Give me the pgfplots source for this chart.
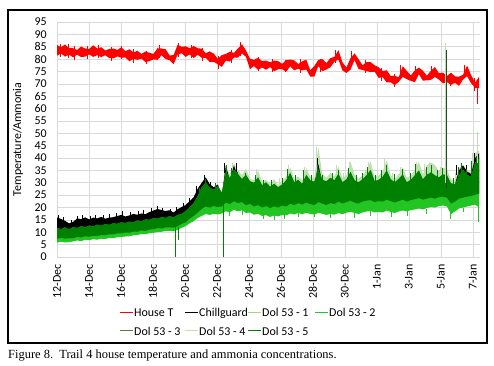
\documentclass[border=0pt]{standalone}
\usepackage{fontspec}
\setmainfont{Carlito}
\newfontfamily\capfont{Liberation Serif}
\usepackage{pgfplots}
\usepackage{pgfplotstable}
\pgfplotsset{compat=1.18}
\usepgfplotslibrary{fillbetween}
\definecolor{gridc}{RGB}{217,217,217}
\definecolor{dolA}{RGB}{169,209,142}
\definecolor{dolB}{RGB}{34,197,34}
\definecolor{dolC}{RGB}{84,130,53}
\definecolor{dolD}{RGB}{190,224,176}
\definecolor{dolE}{RGB}{0,128,0}
\definecolor{spk}{RGB}{30,77,30}

\pgfplotstableread{
Hu Hl Cu Fu Du Dl Bl
85.7 81.4 16.0 10.8 11.8 7.3 5.8
84.8 82.3 15.4 10.2 11.2 7.8 6.2
85.9 81.0 14.6 11.0 12.0 7.4 5.9
84.4 81.8 13.6 10.0 11.0 7.6 6.0
84.4 80.7 14.2 11.1 12.1 7.5 6.3
83.7 81.8 15.6 10.7 11.7 8.2 6.7
85.1 80.8 15.3 11.5 12.5 7.9 6.4
84.3 81.0 16.0 11.0 12.0 8.4 7.0
84.1 81.9 15.2 11.7 12.7 8.2 6.8
85.6 80.9 15.9 11.3 12.3 8.6 7.2
84.3 81.6 15.6 12.1 13.1 8.5 7.0
84.8 80.8 16.2 11.6 12.6 8.9 7.4
83.5 81.6 15.5 12.3 13.3 8.8 7.3
84.1 80.4 15.9 12.0 13.0 9.2 7.7
84.3 80.3 16.1 12.6 13.6 9.1 7.6
83.7 81.1 16.6 12.4 13.4 9.6 8.0
84.8 80.5 17.0 13.0 14.0 9.5 8.1
83.2 80.7 16.4 12.7 13.7 9.9 8.3
84.0 79.1 16.8 13.3 14.3 9.8 8.4
82.7 80.1 17.4 13.0 14.0 10.3 8.8
83.4 79.7 17.1 13.8 14.8 10.2 8.9
82.1 80.2 17.6 13.4 14.4 10.8 9.3
83.1 78.8 17.3 14.2 15.2 10.5 9.2
82.5 79.2 18.2 14.0 15.0 11.1 9.6
82.1 79.9 18.8 14.7 15.7 11.2 9.8
84.4 79.7 19.4 14.5 15.5 11.7 10.1
84.3 81.6 19.0 15.1 16.1 11.5 10.2
84.0 80.0 18.6 14.8 15.8 12.0 10.5
81.5 79.6 18.9 15.5 16.5 12.0 10.6
81.6 77.9 18.0 15.0 16.0 11.9 10.4
85.8 81.8 19.3 16.0 17.0 12.4 11.0
85.0 82.4 20.2 16.4 17.4 13.4 11.8
85.2 80.9 21.0 17.6 18.6 14.0 12.5
84.4 81.9 22.6 19.0 20.0 15.5 13.6
85.3 80.4 24.2 20.8 21.8 16.6 14.5
84.4 81.8 27.6 23.6 24.6 18.0 15.8
84.2 80.5 30.0 27.2 28.2 19.4 16.6
82.4 80.5 32.2 29.1 30.1 20.4 17.4
83.1 78.8 29.4 27.0 28.0 20.0 17.0
82.2 78.9 28.2 26.2 27.2 20.6 17.5
80.1 77.9 29.3 27.6 28.6 20.2 17.2
81.6 76.9 25.0 25.0 26.0 20.5 17.6
82.1 79.4 37.0 36.0 34.5 22.0 18.5
83.0 79.0 31.0 33.5 32.0 21.4 18.0
82.5 80.6 37.0 37.6 35.2 22.6 19.2
84.3 80.6 32.5 35.0 33.6 21.8 18.4
86.0 82.3 30.5 33.0 31.5 22.2 18.9
83.5 80.9 32.0 35.6 33.2 21.0 17.8
80.2 75.9 29.5 31.6 30.6 21.5 18.0
79.7 77.2 29.0 31.0 30.0 20.4 17.1
80.5 75.6 31.0 35.0 32.2 21.0 17.5
79.2 76.6 28.0 30.5 29.0 20.0 16.6
79.4 75.7 29.0 31.2 30.2 20.6 16.9
78.7 76.8 27.5 29.5 28.4 19.8 16.2
79.4 75.1 28.5 31.5 29.6 20.5 16.8
79.2 75.9 27.0 29.0 28.2 20.0 16.4
78.1 75.9 28.0 30.8 29.3 20.8 17.0
79.6 74.9 30.0 32.4 31.0 20.4 16.8
79.8 77.1 33.0 36.2 34.0 21.6 17.6
79.5 75.5 29.0 31.5 30.2 21.0 17.2
78.0 76.1 30.0 32.6 31.2 21.8 17.8
79.1 75.4 28.5 31.0 29.6 21.2 17.3
79.8 75.8 32.0 36.0 33.2 22.0 17.9
75.5 72.9 30.0 32.4 31.0 21.4 17.4
77.2 72.9 29.0 31.8 30.4 21.0 17.2
79.7 77.2 37.5 44.5 35.4 22.2 17.8
80.0 75.1 30.0 33.5 31.2 21.6 17.5
78.4 75.8 29.5 32.0 30.6 21.0 17.0
80.4 76.7 31.0 34.0 32.0 21.8 17.4
80.9 79.0 30.0 32.5 31.0 21.4 17.1
83.6 79.8 32.5 36.5 33.6 22.4 17.8
78.7 75.4 29.0 32.0 30.2 21.6 17.3
76.6 74.4 30.0 33.0 31.4 22.2 17.9
80.4 75.7 33.0 38.6 34.4 22.8 18.3
82.3 79.6 30.0 33.4 31.0 22.0 17.8
80.0 76.0 29.0 31.6 30.2 21.6 17.4
77.5 75.6 30.0 33.0 31.4 22.4 18.0
78.8 75.1 32.0 35.2 33.0 22.8 18.4
78.8 74.8 34.0 38.6 35.2 23.0 18.6
77.5 74.9 29.5 32.4 30.6 22.2 18.0
76.7 72.4 30.0 33.0 31.2 22.6 18.2
75.2 72.7 31.0 34.6 32.4 22.4 18.0
75.5 70.6 34.0 39.2 35.0 23.2 18.8
73.2 70.6 30.0 33.0 31.4 22.6 18.2
73.2 69.5 29.0 31.6 30.2 22.0 17.8
72.7 70.8 30.5 33.4 31.6 22.6 18.4
77.1 72.8 32.0 36.2 33.4 23.2 18.8
75.2 71.9 29.0 32.0 30.2 22.4 18.4
73.4 71.2 30.0 33.0 31.2 23.0 19.0
75.4 70.7 32.0 35.0 33.0 23.4 19.2
76.6 73.9 34.0 38.6 35.0 23.8 19.6
75.3 71.3 30.0 33.4 31.4 23.2 19.2
73.3 71.4 32.0 37.0 33.2 23.6 19.8
75.3 71.6 33.0 38.2 34.2 24.0 20.2
76.8 72.8 32.0 37.2 33.0 23.6 20.0
74.3 71.7 31.0 34.6 32.2 24.2 20.6
74.5 70.2 32.0 36.2 33.4 24.4 20.8
73.2 70.7 32.0 35.4 33.0 24.0 20.4
74.5 69.6 29.0 31.4 29.8 21.6 17.4
73.0 70.4 29.5 31.0 29.4 22.4 18.4
72.9 69.2 35.0 36.0 33.0 23.6 19.6
73.7 71.8 37.0 37.2 35.2 24.0 20.0
77.4 73.1 34.5 35.0 33.2 24.4 20.4
73.5 70.2 33.6 34.6 32.4 24.6 20.8
70.6 68.4 40.0 42.0 38.2 25.2 21.2
72.9 68.2 42.0 43.0 40.0 25.6 20.0
}\data

% short noise spikes: x, base, length
\pgfplotstableread{
x b l
0.2 81.0 5.2
0.7 80.6 5.4
1.1 79.8 5.4
1.9 80.2 5.2
2.6 80.3 5.4
3.4 79.3 5.4
4.0 80.0 5.4
4.8 78.5 5.4
5.6 78.2 5.2
6.4 80.6 5.0
7.6 81.0 5.4
8.4 80.3 5.6
9.1 79.4 5.2
10.1 76.0 5.2
10.9 78.4 5.2
11.5 81.4 5.6
12.6 75.3 5.4
13.5 74.7 5.4
14.3 74.6 5.2
15.2 74.5 5.4
16.5 74.8 5.4
17.4 78.3 5.4
18.4 77.8 5.4
19.3 74.2 5.4
20.3 71.2 5.4
21.1 68.9 5.2
21.5 72.4 5.4
22.4 71.8 5.4
23.4 71.9 5.2
24.6 69.1 5.4
25.5 72.3 5.4
26.1 67.2 5.2
}\redSpk

\pgfplotstableread{
x b l
10.5 28 10
11.0 28 10
12.5 28 7.5
13.9 27 5
14.5 28 9
15.5 28 8.5
16.25 28 16.5
17.5 28 9
17.9 28 6
18.3 28 10.5
19.5 28 10.5
20.5 28 11.5
21.0 28 6
21.5 28 8.5
22.5 28 10.5
23.0 28 9.5
23.3 28 10.5
23.6 28 9
24.0 28 8.5
24.9 28 6
26.0 30 12
}\paleSpk

\pgfplotstableread{
x b l
0.1 14 3
0.4 13.5 2.5
0.9 12.5 2.5
1.3 14 2.5
1.6 14 2.8
2.1 14 2.6
2.4 14.5 2.3
2.9 14.5 2.6
3.3 14.5 2.8
3.7 15 2.6
4.1 15.5 3
4.6 15.5 2.6
5.1 16 2.6
5.4 16 2.8
5.9 17 3
6.3 17.5 3
6.6 17.5 2.5
7.1 17 2.6
7.5 17.5 2.8
7.9 19 3
8.3 21 3
8.7 24 4.5
9.2 28 5
9.6 27 3.5
10.5 34 4
11.2 33 5
16.3 35 5
25.0 33 4
25.6 33 4
26.1 38 4
}\blackSpk

\pgfplotstableread{
x b l
10.8 19 2.5
11.6 19 2
12.9 17 1.8
13.6 17 2
14.2 17.5 2
15.1 18 2
16.1 18 2
17.1 17.5 1.8
18.6 18 2.2
19.6 18.5 2
20.9 18 2
21.9 18.5 2
23.1 19.5 2
24.6 18 2.5
25.4 20 2
}\brightSpk

\pgfplotstableread{
x b l
8.9 22 6
9.3 25 6.5
9.9 24 6
10.6 29 8
10.9 29 7
11.3 28 6.5
11.8 28 6
12.4 27 6
12.9 26 5
13.4 26 5
14.1 27 5
14.4 28 7.5
14.9 28 5
15.4 28 7
15.9 28 5
16.3 29 8
16.6 28 5
17.2 28 6
17.6 29 6
18.2 29 7
18.7 28 5
19.1 28 6
19.4 29 7.5
19.9 28 5
20.3 29 6
20.6 29 8
21.1 28 5.5
21.6 29 6.5
22.1 28 6
22.4 30 7.5
22.7 28 5.5
23.1 30 6.5
23.4 30 7
23.8 29 6
24.1 30 6
24.8 27 5
25.1 30 6.5
25.3 31 7
25.6 30 5.5
25.9 31 8
26.2 32 9
}\darkSpk

\begin{document}
\begin{tikzpicture}
\path (0,0) rectangle (494bp,366bp);
\draw[line width=1.4bp] (8bp,23bp) rectangle (487bp,356bp);
\begin{axis}[
  at={(57bp,109bp)}, anchor=south west,
  scale only axis, width=423bp, height=235bp,
  xmin=0, xmax=26.45, ymin=0, ymax=95,
  xtick={0,2,...,26},
  xticklabels={12-Dec,14-Dec,16-Dec,18-Dec,20-Dec,22-Dec,24-Dec,26-Dec,28-Dec,30-Dec,1-Jan,3-Jan,5-Jan,7-Jan},
  ytick={0,5,...,95},
  grid=major, major grid style={gridc, line width=0.6bp},
  axis line style={draw=none}, tick style={draw=none},
  /pgf/number format/assume math mode=true,
  tick label style={font=\fontsize{12}{14}\selectfont},
  xticklabel style={yshift=-7bp, rotate=90, anchor=east, inner sep=0pt},
  yticklabel style={xshift=-10bp, anchor=east, inner sep=0pt},
  ylabel={Temperature/Ammonia},
  every axis y label/.style={at={(axis description cs:0,0.5)}, xshift=-39bp, rotate=90, anchor=center, font=\fontsize{12}{14}\selectfont},
  spikes/.style={on layer=pre main, draw=none, mark=none, forget plot,
     error bars/.cd, y dir=plus, y explicit, error mark=none},
]
\addplot[draw=none, name path=hu, forget plot] table[x expr=\coordindex*0.2514, y=Hu] {\data};
\addplot[draw=none, name path=hl, forget plot] table[x expr=\coordindex*0.2514, y=Hl] {\data};
\addplot[draw=none, name path=cu, forget plot] table[x expr=\coordindex*0.2514, y=Cu] {\data};
\addplot[draw=none, name path=fu, forget plot] table[x expr=\coordindex*0.2514, y=Fu] {\data};
\addplot[draw=none, name path=du, forget plot] table[x expr=\coordindex*0.2514, y=Du] {\data};
\addplot[draw=none, name path=dl, forget plot] table[x expr=\coordindex*0.2514, y=Dl] {\data};
\addplot[draw=none, name path=bl, forget plot] table[x expr=\coordindex*0.2514, y=Bl] {\data};
% Dol 53 - 4 (pale)
\addplot[fill=dolD, draw=none, forget plot] fill between[of=fu and dl];
\addplot[spikes, error bar style={draw=dolD, line width=1bp}] table[x=x, y=b, y error=l] {\paleSpk};
% Chillguard
\addplot[fill=black, draw=none, forget plot] fill between[of=cu and dl];
\addplot[spikes, error bar style={draw=black, line width=1bp}] table[x=x, y=b, y error=l] {\blackSpk};
% Dol 53 - 2 (bright)
\addplot[fill=dolB, draw=none, forget plot] fill between[of=du and bl];
\addplot[on layer=pre main, draw=none, mark=none, forget plot, error bars/.cd, y dir=minus, y explicit, error mark=none, error bar style={draw=dolB, line width=1bp}] table[x=x, y=b, y error=l] {\brightSpk};
% Dol 53 - 1 and Dol 53 - 3 (mostly hidden)
\addplot[on layer=pre main, dolA, line width=0.8bp, forget plot] coordinates {(0,9) (2,10) (4,11.5) (6,13) (8,16) (10,23) (12,25) (14,24) (16,25) (18,26) (20,26) (22,27) (24,27.5) (26,29)};
\addplot[on layer=pre main, dolC, line width=0.8bp, forget plot] coordinates {(0,9.5) (2,10.5) (4,12) (6,13.5) (8,16.5) (10,23.5) (12,26) (14,24.5) (16,25.5) (18,26.5) (20,26.5) (22,27.5) (24,28) (26,30)};
% Dol 53 - 5 (dark)
\addplot[fill=dolE, draw=none, forget plot] fill between[of=du and dl];
\addplot[spikes, error bar style={draw=dolE, line width=0.9bp}] table[x=x, y=b, y error=l] {\darkSpk};
% House T
\addplot[fill=red, draw=none, forget plot] fill between[of=hu and hl];
\addplot[spikes, error bar style={draw=red, line width=0.9bp}] table[x=x, y=b, y error=l] {\redSpk};
% spikes
\addplot[dolE, line width=0.9bp, forget plot] coordinates {(7.4,12) (7.4,0)};
\addplot[dolE, line width=0.9bp, forget plot] coordinates {(7.6,12) (7.6,7)};
\addplot[dolE, line width=0.9bp, forget plot] coordinates {(10.4,24) (10.4,0)};
\addplot[dolD, line width=1.2bp, forget plot] coordinates {(24.3,30) (24.3,86.5)};
\addplot[spk, line width=1.3bp, forget plot] coordinates {(24.37,28) (24.37,83.7)};
\addplot[dolD, line width=0.9bp, forget plot] coordinates {(26.3,38) (26.3,50.5)};
\addplot[red, line width=0.9bp, forget plot] coordinates {(26.3,70) (26.3,62)};
\addplot[dolB, line width=0.9bp, forget plot] coordinates {(26.35,22) (26.35,14)};
\end{axis}
% legend
\begin{scope}[font=\fontsize{12}{14}\selectfont]
\draw[red, line width=0.9bp] (120bp,53.5bp) -- (133bp,53.5bp);
\node[anchor=base west, inner sep=0pt] at (134bp,49bp) {House T};
\draw[black, line width=0.9bp] (185bp,53.5bp) -- (198bp,53.5bp);
\node[anchor=base west, inner sep=0pt] at (199bp,49bp) {Chillguard};
\draw[dolA, line width=0.9bp] (248bp,53.5bp) -- (261bp,53.5bp);
\node[anchor=base west, inner sep=0pt] at (262bp,49bp) {Dol 53 - 1};
\draw[dolB, line width=0.9bp] (315bp,53.5bp) -- (328bp,53.5bp);
\node[anchor=base west, inner sep=0pt] at (329bp,49bp) {Dol 53 - 2};
\draw[dolC, line width=0.9bp] (120bp,35.5bp) -- (133bp,35.5bp);
\node[anchor=base west, inner sep=0pt] at (134bp,31bp) {Dol 53 - 3};
\draw[dolD, line width=0.9bp] (185bp,35.5bp) -- (198bp,35.5bp);
\node[anchor=base west, inner sep=0pt] at (199bp,31bp) {Dol 53 - 4};
\draw[dolE, line width=0.9bp] (248bp,35.5bp) -- (261bp,35.5bp);
\node[anchor=base west, inner sep=0pt] at (262bp,31bp) {Dol 53 - 5};
\end{scope}
\node[anchor=base west, inner sep=0pt, font=\capfont\fontsize{12.5}{15}\selectfont] at (8bp,8bp) {Figure 8.\ \ Trail 4 house temperature and ammonia concentrations.};
\end{tikzpicture}
\end{document}
